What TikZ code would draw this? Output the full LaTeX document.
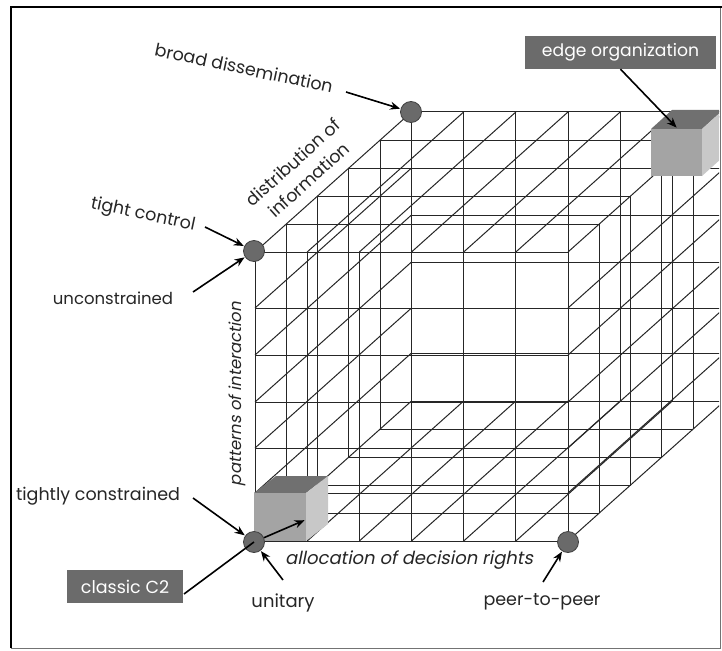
\documentclass[tikz,border=0pt]{standalone}
\usepackage{fontspec}
\setmainfont{Poppins}
\newfontfamily\futit[FakeSlant=0.2]{Poppins}
\usetikzlibrary{arrows.meta}
\definecolor{dotgray}{HTML}{6A6A6A}
\definecolor{boxgray}{HTML}{6B6B6B}
\definecolor{cubefront}{HTML}{A4A4A4}
\definecolor{cubetop}{HTML}{707070}
\definecolor{cubeside}{HTML}{C8C8C8}
\newcommand{\fsz}[1]{\fontsize{#1}{#1}\selectfont}
\tikzset{
  gridl/.style={draw=black!85, line width=1pt},
  dotnode/.style={circle, fill=dotgray, draw=black!75, line width=0.8pt, minimum size=21pt, inner sep=0pt},
  arr/.style={draw=black, line width=1.6pt, -{Stealth[length=10pt,width=8pt]}, shorten >=0.5pt},
  plainline/.style={draw=black, line width=1.6pt},
  lbl/.style={font=\fsz{17.5}, text=black!85, inner sep=1pt},
  ilbl/.style={font=\fsz{17.5}\futit, text=black!85, inner sep=1pt},
  darkbox/.style={fill=boxgray, text=white, font=\fsz{17.2}, inner sep=0pt},
}
\begin{document}
\begin{tikzpicture}[x=1pt, y={(0pt,-1pt)}]
\useasboundingbox (0,0) rectangle (722,650);
\fill[white] (0,0) rectangle (722,650);
\def\cw{52.1667}
\def\dx{31.3}
\def\dy{28}
\begin{scope}
\clip (12,8) rectangle (719,647);
% x-lines on front and back faces
\foreach \yy in {541,493,448,402,355,308,252} {
  \draw[gridl] (255,\yy) -- (568,\yy);
  \draw[gridl] (255+5*\dx,\yy-5*\dy) -- (568+5*\dx,\yy-5*\dy);
}
% x-lines on bottom and top faces
\foreach \k in {1,...,4} {
  \draw[gridl] (255+\k*\dx,541-\k*\dy) -- (568+\k*\dx,541-\k*\dy);
  \draw[gridl] (255+\k*\dx,252-\k*\dy) -- (568+\k*\dx,252-\k*\dy);
}
% y-lines on front and back faces
\foreach \i in {0,...,6} {
  \draw[gridl] (255+\i*\cw,541) -- (255+\i*\cw,252);
  \draw[gridl] (255+\i*\cw+5*\dx,541-5*\dy) -- (255+\i*\cw+5*\dx,252-5*\dy);
}
% y-lines on left and right faces
\foreach \k in {1,...,4} {
  \draw[gridl] (255+\k*\dx,541-\k*\dy) -- (255+\k*\dx,252-\k*\dy);
  \draw[gridl] (568+\k*\dx,541-\k*\dy) -- (568+\k*\dx,252-\k*\dy);
}
% z-lines on left and right faces
\foreach \yy in {541,493,448,402,355,308,252} {
  \draw[gridl] (255,\yy) -- ++(5*\dx,-5*\dy);
  \draw[gridl] (568,\yy) -- ++(5*\dx,-5*\dy);
}
% z-lines on bottom and top faces
\foreach \i in {1,...,5} {
  \draw[gridl] (255+\i*\cw,541) -- ++(5*\dx,-5*\dy);
  \draw[gridl] (255+\i*\cw,252) -- ++(5*\dx,-5*\dy);
}
% edge organization cube
\fill[cubetop] (651,129) -- (672,110) -- (723,110) -- (702,129) -- cycle;
\fill[cubeside] (702,129) -- (723,110) -- (723,157) -- (702,176) -- cycle;
\fill[cubefront] (651,129) rectangle (702,176);
\end{scope}
% classic C2 cube
\fill[cubetop] (254,493) -- (276,476) -- (328,476) -- (306,493) -- cycle;
\fill[cubeside] (306,493) -- (328,476) -- (328,524) -- (306,541) -- cycle;
\fill[cubefront] (254,493) rectangle (306,541);

% frame
\draw[black!55, line width=1pt] (720.5,7) -- (720.5,648) -- (11,648);
\draw[black, line width=2.6pt] (11,648) -- (11,7) -- (722,7);

% dots
\node[dotnode] (bd) at (411,112) {};
\node[dotnode] (tc) at (254,251) {};
\node[dotnode] (og) at (254,542) {};
\node[dotnode] (pp) at (568,542) {};

% labels
\node[lbl, rotate=-12] (lbd) at (244,68) {broad dissemination};
\node[lbl, rotate=-12] (ltc) at (143,215) {tight control};
\node[lbl, font=\fsz{16.5}] (lun) at (113,298) {unconstrained};
\node[lbl, rotate=42, align=center, font=\fsz{17.5}] (ldi) at (301,171) {distribution of\\[6pt]information};
\node[ilbl, rotate=90, font=\fsz{16.5}\futit] (lpi) at (237,394) {patterns of interaction};
\node[ilbl, font=\fsz{18}\futit] (lal) at (409,560) {allocation of decision rights};
\node[lbl] (ltcn) at (98,496) {tightly constrained};
\node[lbl, font=\fsz{18}] (lut) at (283,603) {unitary};
\node[lbl] (lpp) at (542,602) {peer-to-peer};
\node[darkbox, minimum width=191pt, minimum height=33pt] (eo) at (620.5,52.5) {edge organization};
\node[darkbox, font=\fsz{17.5}, minimum width=116pt, minimum height=33pt] (c2) at (125,586.5) {classic C2};

% connector end points
\coordinate (sbd) at (346,92);
\coordinate (stc) at (205,227);
\coordinate (sun) at (193,292);
\coordinate (stcn) at (193,498);
\coordinate (sc2) at (184,594);
\coordinate (tc2) at (305,520);
\coordinate (sut) at (283,580);
\coordinate (spp) at (543,582);
\coordinate (teo) at (677,128);

% connectors
\draw[arr] (sbd) -- (bd);
\draw[arr] (stc) -- (tc);
\draw[arr] (sun) -- (tc);
\draw[arr] (stcn) -- (og);
\draw[plainline] (sc2) -- (og.center);
\draw[arr] (og) -- (tc2);
\draw[arr] (sut) -- (og);
\draw[arr] (spp) -- (pp);
\draw[arr] (eo.south) -- (teo);
\end{tikzpicture}
\end{document}
